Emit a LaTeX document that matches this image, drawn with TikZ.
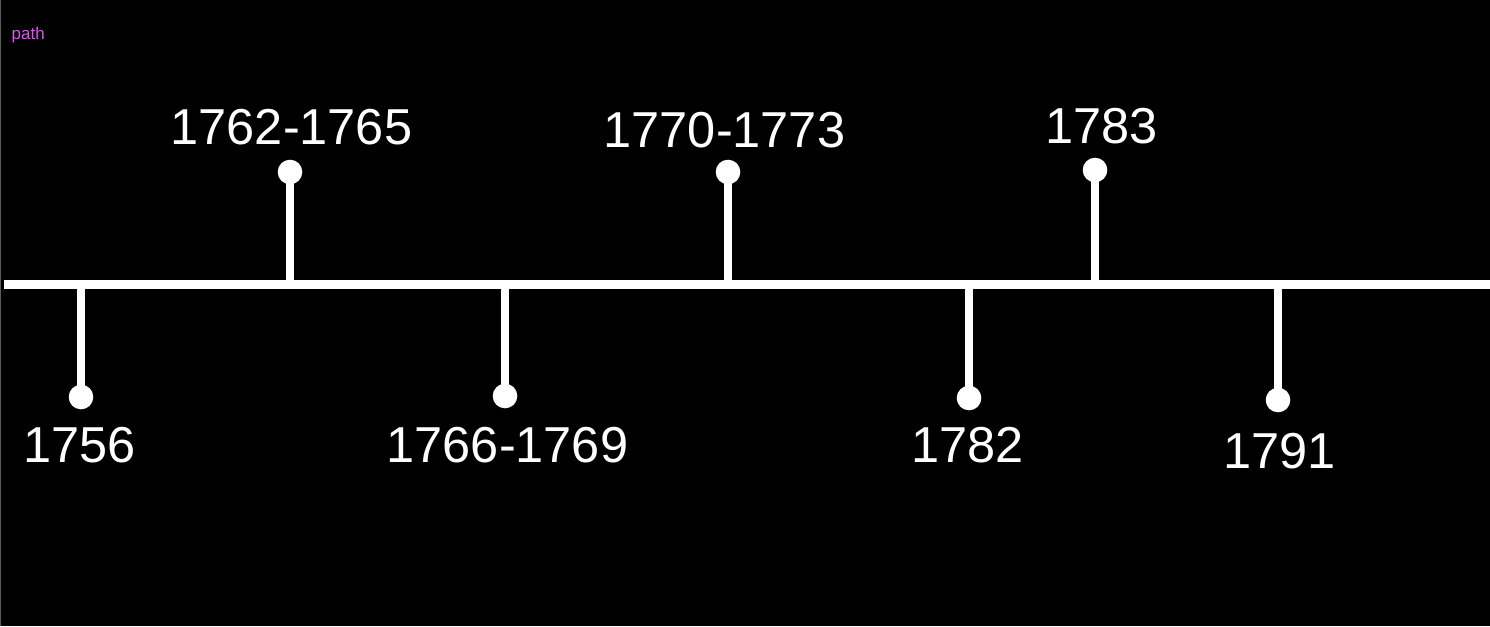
\documentclass[tikz,border=0pt]{standalone}
\usepackage{fontspec}
\setmainfont{Liberation Sans}
\begin{document}
\begin{tikzpicture}[x=1pt,y=-1pt,
  axisline/.style={draw=white,line width=9pt},
  stem/.style={draw=white,line width=8.5pt},
  dot/.style={circle,fill=white,inner sep=0pt,minimum size=24.6pt},
  yearlabel/.style={text=white,font=\fontsize{50.5}{58}\selectfont,inner sep=0pt,anchor=base west},
  pathlabel/.style={text={rgb,255:red,214;green,90;blue,230},font=\fontsize{17}{20}\selectfont,inner sep=0pt,anchor=base west}]
\fill[black] (0,0) rectangle (1490,626);
\useasboundingbox (0,0) rectangle (1490,626);
\draw[draw={rgb,255:red,90;green,90;blue,90},line width=1pt] (0.5,0) -- (0.5,626);
\node[pathlabel] (pathtext) at (11.5,40) {path};
% axis
\coordinate (axL) at (4,284);
\coordinate (axR) at (1490,284);
\draw[axisline] (axL) -- (axR);
% stem bases
\coordinate (b1) at (81,284);
\coordinate (b2) at (290,288);
\coordinate (b3) at (505,284);
\coordinate (b4) at (728,288);
\coordinate (b5) at (969,284);
\coordinate (b6) at (1095,288);
\coordinate (b7) at (1278,284);
% dots
\node[dot] (d1) at (81,397) {};
\node[dot] (d2) at (290,172) {};
\node[dot] (d3) at (505,396) {};
\node[dot] (d4) at (728,172) {};
\node[dot] (d5) at (969,398) {};
\node[dot] (d6) at (1095,170) {};
\node[dot] (d7) at (1278,400) {};
% stems
\foreach \i in {1,...,7} { \draw[stem] (b\i) -- (d\i.center); }
% labels
\node[yearlabel] (l1) at (23.5,462) {1756};
\node[yearlabel] (l2) at (170.5,144) {1762-1765};
\node[yearlabel] (l3) at (386.5,462) {1766-1769};
\node[yearlabel] (l4) at (603.5,147) {1770-1773};
\node[yearlabel] (l5) at (911.5,462) {1782};
\node[yearlabel] (l6) at (1045.5,143) {1783};
\node[yearlabel] (l7) at (1223.5,468) {1791};
\end{tikzpicture}
\end{document}
